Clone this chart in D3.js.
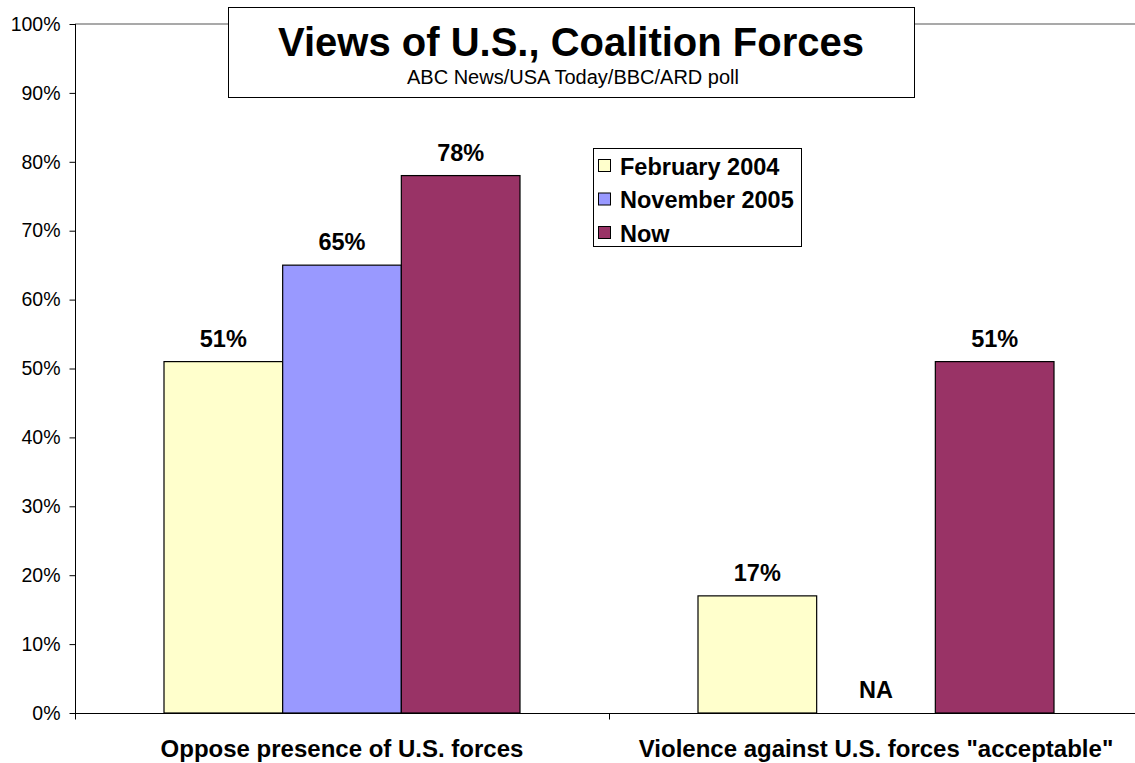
<!DOCTYPE html>
<html>
<head>
<meta charset="utf-8">
<script src="https://cdn.jsdelivr.net/npm/d3@7"></script>
<style>
  html, body { margin: 0; padding: 0; background: #fff; }
  svg { display: block; font-family: Arial, "Liberation Sans", sans-serif; }
</style>
</head>
<body>
<svg id="chart" width="1135" height="763"></svg>
<script>
// Poll results, share of respondents
const categories = ["Oppose presence of U.S. forces", "Violence against U.S. forces \"acceptable\""];
const seriesNames = ["February 2004", "November 2005", "Now"];
const seriesColors = ["#FFFFCC", "#9999FF", "#993366"];
const feb2004 = [0.51, 0.17];
const nov2005 = [0.65, null];   // not asked in the second question
const now = [0.78, 0.51];
const yTicks = [0, 0.1, 0.2, 0.3, 0.4, 0.5, 0.6, 0.7, 0.8, 0.9, 1.0];

const title = "Views of U.S., Coalition Forces";
const subtitle = "ABC News/USA Today/BBC/ARD poll";

const seriesValues = [feb2004, nov2005, now];

const svg = d3.select("#chart");
const plot = { left: 75, right: 1143, top: 24, bottom: 713 };

const x0 = d3.scaleBand().domain(categories).range([plot.left, plot.right]).padding(0);
const x1 = d3.scaleBand().domain(seriesNames).range([0, x0.bandwidth()])
  .paddingInner(0).paddingOuter(0.75);
const y = d3.scaleLinear().domain([0, 1]).range([plot.bottom, plot.top]);
const fmt = d3.format(".0%");

// top border of the plot area
svg.append("line")
  .attr("x1", plot.left).attr("x2", plot.right).attr("y1", plot.top).attr("y2", plot.top)
  .attr("stroke", "#8c8c8c").attr("stroke-width", 1.5);

// value axis
const yAxis = d3.axisLeft(y).tickValues(yTicks).tickFormat(fmt)
  .tickSizeInner(6).tickSizeOuter(0).tickPadding(9);
const gy = svg.append("g").attr("transform", `translate(${plot.left + 0.5},0)`).call(yAxis);
gy.select(".domain").attr("stroke", "#000").attr("d", `M0,${plot.top}V${plot.bottom + 6}`);
gy.selectAll(".tick line").attr("stroke", "#000");
gy.selectAll(".tick text").attr("font-size", "19.5px").attr("fill", "#000")
  .attr("font-family", "Arial, 'Liberation Sans', sans-serif");

// bars
const groups = svg.append("g").selectAll("g")
  .data(categories).join("g")
  .attr("transform", d => `translate(${x0(d)},0)`);

groups.each(function(cat, ci) {
  const g = d3.select(this);
  seriesNames.forEach((s, si) => {
    const v = seriesValues[si][ci];
    const bx = x1(s);
    if (v != null) {
      g.append("rect")
        .attr("x", bx).attr("width", x1.bandwidth())
        .attr("y", y(v)).attr("height", y(0) - y(v))
        .attr("fill", seriesColors[si]).attr("stroke", "#000").attr("stroke-width", 1.2);
    }
    g.append("text")
      .attr("x", bx + x1.bandwidth() / 2)
      .attr("y", y(v == null ? 0 : v) - 15)
      .attr("text-anchor", "middle")
      .attr("font-weight", "bold").attr("font-size", "23.5px")
      .text(v == null ? "NA" : fmt(v));
  });
});

// category axis
const xAxis = d3.axisBottom(x0).tickSize(0).tickPadding(0);
const gx = svg.append("g").attr("transform", `translate(0,${plot.bottom + 0.5})`).call(xAxis);
gx.select(".domain").attr("stroke", "#000").attr("d", `M${plot.left},0H${plot.right}`);
gx.selectAll(".tick text")
  .attr("y", 43).attr("dy", 0)
  .attr("font-size", "24px").attr("font-weight", "bold").attr("fill", "#000")
  .attr("font-family", "Arial, 'Liberation Sans', sans-serif");
// dividers between categories
gx.selectAll(".divider").data(d3.range(categories.length + 1)).join("line")
  .attr("class", "divider")
  .attr("x1", i => plot.left + i * x0.step() + 0.5).attr("x2", i => plot.left + i * x0.step() + 0.5)
  .attr("y1", 0).attr("y2", 6).attr("stroke", "#000");

// title box
const tb = svg.append("g");
tb.append("rect").attr("x", 228.5).attr("y", 7.5).attr("width", 686).attr("height", 90)
  .attr("fill", "#fff").attr("stroke", "#000").attr("stroke-width", 1);
tb.append("text").attr("x", 571).attr("y", 56).attr("text-anchor", "middle")
  .attr("font-weight", "bold").attr("font-size", "40px").text(title);
tb.append("text").attr("x", 573).attr("y", 84).attr("text-anchor", "middle")
  .attr("font-size", "20px").text(subtitle);

// legend
const lg = svg.append("g");
lg.append("rect").attr("x", 593.5).attr("y", 148.5).attr("width", 208).attr("height", 98)
  .attr("fill", "#fff").attr("stroke", "#000").attr("stroke-width", 1);
const items = lg.selectAll("g.item").data(seriesNames).join("g").attr("class", "item")
  .attr("transform", (d, i) => `translate(0,${166 + i * 33.5})`);
items.append("rect").attr("x", 598.5).attr("y", -6.5).attr("width", 12).attr("height", 12)
  .attr("fill", (d, i) => seriesColors[i]).attr("stroke", "#000").attr("stroke-width", 1);
items.append("text").attr("x", 620).attr("y", 8.5)
  .attr("font-weight", "bold").attr("font-size", "23.5px").text(d => d);
</script>
</body>
</html>
